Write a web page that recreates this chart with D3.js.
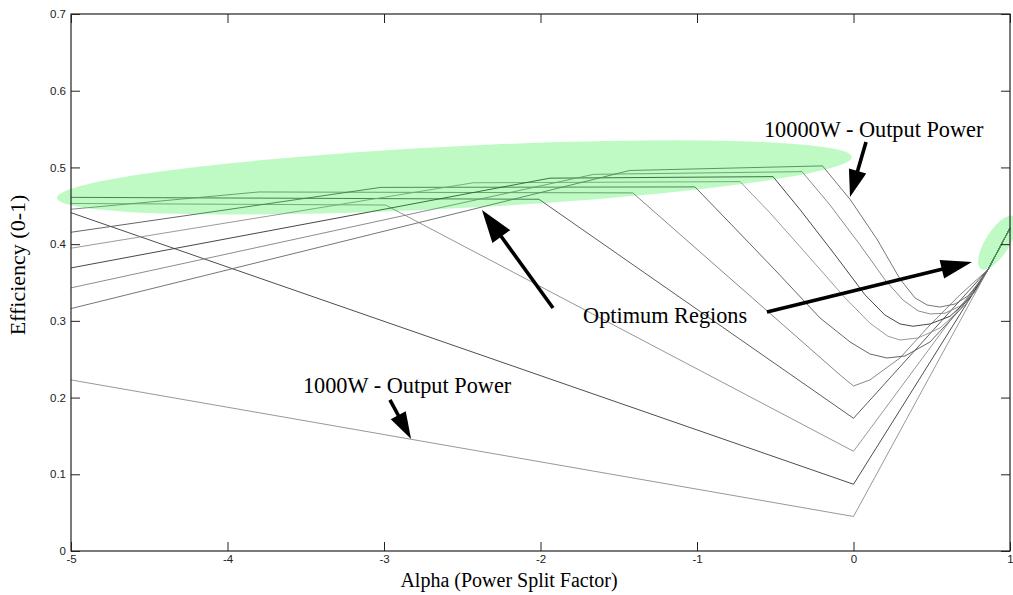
<!DOCTYPE html>
<html><head><meta charset="utf-8">
<script src="https://cdn.jsdelivr.net/npm/d3@7"></script>
<style>body{margin:0;background:#fff}svg{display:block}</style>
</head><body><svg id="c" width="1013" height="595"></svg>
<script>
const xTicks=[-5,-4,-3,-2,-1,0,1];
const yTicks=[0,0.1,0.2,0.3,0.4,0.5,0.6,0.7];
const seriesNames=["1000W","2000W","3000W","4000W","5000W","6000W","7000W","8000W","9000W","10000W"];
const p1000=[[-5,0.223],[0,0.045],[0.86,0.367],[1,0.421]];
const p2000=[[-5,0.441],[0,0.087],[0.86,0.367],[1,0.421]];
const p3000=[[-5,0.453],[-2.99,0.451],[0,0.13],[0.86,0.367],[1,0.421]];
const p4000=[[-5,0.461],[-2.01,0.4585],[0,0.173],[0.86,0.367],[1,0.421]];
const p5000=[[-5,0.4455],[-3.8,0.468],[-1.41,0.4668],[-0.086,0.2295],[0,0.2151],[0.105,0.223],[0.297,0.2516],[0.489,0.2947],[0.68,0.3338],[0.86,0.367],[1,0.421]];
const p6000=[[-5,0.4155],[-3.02,0.474],[-1.013,0.4746],[-0.79,0.4276],[-0.502,0.3664],[-0.214,0.3038],[-0.022,0.2725],[0.105,0.2568],[0.214,0.2516],[0.329,0.2542],[0.489,0.2725],[0.68,0.3142],[0.86,0.367],[1,0.421]];
const p7000=[[-5,0.3947],[-2.43,0.48],[-0.725,0.4815],[-0.533,0.4407],[-0.278,0.382],[-0.054,0.33],[0.105,0.297],[0.22,0.28],[0.297,0.275],[0.413,0.2777],[0.553,0.2907],[0.713,0.3207],[0.86,0.367],[1,0.421]];
const p8000=[[-5,0.369],[-1.94,0.486],[-0.514,0.488],[-0.34,0.4446],[-0.118,0.386],[0.073,0.334],[0.2,0.3077],[0.297,0.296],[0.38,0.293],[0.49,0.296],[0.617,0.306],[0.745,0.33],[0.86,0.367],[1,0.421]];
const p9000=[[-5,0.343],[-1.66,0.491],[-0.329,0.4945],[-0.15,0.451],[0.042,0.399],[0.202,0.3533],[0.317,0.327],[0.413,0.313],[0.49,0.309],[0.585,0.31],[0.68,0.319],[0.777,0.338],[0.86,0.367],[1,0.421]];
const p10000=[[-5,0.316],[-1.43,0.496],[-0.198,0.502],[-0.019,0.4576],[0.153,0.4055],[0.297,0.3546],[0.393,0.3299],[0.47,0.3207],[0.553,0.318],[0.649,0.322],[0.732,0.3325],[0.796,0.348],[0.86,0.367],[1,0.421]];
const series=[p1000,p2000,p3000,p4000,p5000,p6000,p7000,p8000,p9000,p10000];

const lineColors=["#8c8c8c","#3a3a3a","#8a8a8a","#4a4a4a","#7a7a7a","#555","#909090","#333","#808080","#666"];

const svg=d3.select("#c");
const x=d3.scaleLinear().domain([-5,1]).range([71,1010]);
const y=d3.scaleLinear().domain([0,0.7]).range([551,14]);

const line=d3.line().x(d=>x(d[0])).y(d=>y(d[1]));
svg.append("g").selectAll("path").data(series).join("path")
  .attr("d",line).attr("fill","none").attr("stroke-linejoin","round")
  .attr("stroke",(d,i)=>lineColors[i]).attr("stroke-width",0.9);

const cx1=x(-2.55), cy1=y(0.487);
svg.append("ellipse").attr("cx",0).attr("cy",0).attr("rx",398).attr("ry",31)
  .attr("transform",`translate(${cx1},${cy1}) rotate(-2.95)`)
  .attr("fill","rgb(20,235,40)").attr("fill-opacity",0.27);
svg.append("ellipse").attr("cx",0).attr("cy",0).attr("rx",31).attr("ry",12)
  .attr("transform",`translate(${x(0.92)},${y(0.402)}) rotate(-58)`)
  .attr("fill","rgb(20,235,40)").attr("fill-opacity",0.27);

const fr=svg.append("g");
fr.append("rect").attr("x",x(-5)).attr("y",y(0.7)).attr("width",x(1)-x(-5)).attr("height",y(0)-y(0.7))
  .attr("fill","none").attr("stroke","#222").attr("stroke-width",1.2);
const ax=(g)=>{g.select(".domain").remove();g.selectAll("line").attr("stroke","#222");
  g.selectAll("text").attr("fill","#222").style("font-family","'Liberation Sans',Arial,sans-serif").style("font-size","11.5px");};
svg.append("g").attr("transform",`translate(0,${y(0)})`)
  .call(d3.axisBottom(x).tickValues(xTicks).tickSizeInner(-9).tickSizeOuter(0).tickPadding(4).tickFormat(d=>String(d))).call(ax);
svg.append("g").attr("transform",`translate(0,${y(0.7)})`)
  .call(d3.axisTop(x).tickValues(xTicks).tickSizeInner(-9).tickSizeOuter(0).tickFormat("")).call(ax);
svg.append("g").attr("transform",`translate(${x(-5)},0)`)
  .call(d3.axisLeft(y).tickValues(yTicks).tickSizeInner(-9).tickSizeOuter(0).tickPadding(5).tickFormat(d=>d===0?"0":d3.format(".1f")(d))).call(ax);
svg.append("g").attr("transform",`translate(${x(1)},0)`)
  .call(d3.axisRight(y).tickValues(yTicks).tickSizeInner(-9).tickSizeOuter(0).tickFormat("")).call(ax);

const serif="'Liberation Serif','Times New Roman',serif";
svg.append("text").attr("x",509).attr("y",587).attr("text-anchor","middle")
  .style("font-family",serif).style("font-size","20px").text("Alpha (Power Split Factor)");
svg.append("text").attr("transform",`translate(25,265) rotate(-90)`).attr("text-anchor","middle")
  .style("font-family",serif).style("font-size","22px").text("Efficiency (0-1)");

const notes=[{t:"10000W - Output Power",x:-0.572,y:0.54},{t:"Optimum Regions",x:-1.728,y:0.297},{t:"1000W - Output Power",x:-3.518,y:0.206}];
svg.selectAll("text.note").data(notes).join("text").attr("class","note")
  .attr("x",d=>x(d.x)).attr("y",d=>y(d.y)).style("font-family",serif).style("font-size","22.3px").attr("fill","#000").text(d=>d.t);

const arrows=[{x1:0.080,y1:0.533,x2:-0.0223,y2:0.4615,hl:27,hw:9},
  {x1:-1.92,y1:0.3168,x2:-2.374,y2:0.4446,hl:33,hw:11},
  {x1:-0.553,y1:0.3116,x2:0.757,y2:0.3768,hl:31,hw:9.5},
  {x1:-2.962,y1:0.197,x2:-2.827,y2:0.146,hl:27,hw:8.5}];
arrows.forEach(a=>{
  const X1=x(a.x1),Y1=y(a.y1),X2=x(a.x2),Y2=y(a.y2);
  const dx=X2-X1,dy=Y2-Y1,L=Math.hypot(dx,dy),ux=dx/L,uy=dy/L;
  const bx=X2-ux*a.hl,by=Y2-uy*a.hl;
  svg.append("line").attr("x1",X1).attr("y1",Y1).attr("x2",bx+ux*2).attr("y2",by+uy*2)
    .attr("stroke","#000").attr("stroke-width",3.6);
  svg.append("polygon").attr("points",[[X2,Y2],[bx-uy*a.hw,by+ux*a.hw],[bx+uy*a.hw,by-ux*a.hw]].map(p=>p.join(",")).join(" "))
    .attr("fill","#000");
});
</script></body></html>
